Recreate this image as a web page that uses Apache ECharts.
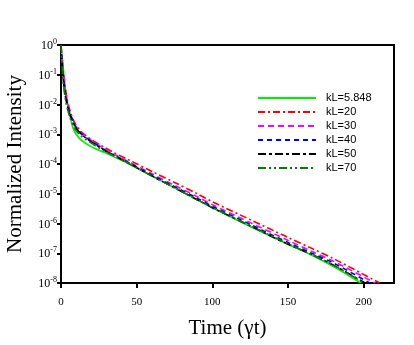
<!DOCTYPE html>
<html>
<head>
<meta charset="utf-8">
<script src="https://cdn.jsdelivr.net/npm/echarts@6/dist/echarts.min.js"></script>
<style>html,body{margin:0;padding:0;background:#fff}#c{width:414px;height:345px}</style>
</head>
<body>
<div id="c"></div>
<script>
// Time points (γt) shared by all curves; each curve then ends at its own time where it reaches 1e-8
const times = [0,1,2,3,4,6,8,10,13,17,22,28,35,45,60,75,90,100,125,150,165,180];
const endTimes = { kL5848: 198, kL20: 210.5, kL30: 207.5, kL40: 204, kL50: 201, kL70: 200 };
// log10(normalized intensity) at the shared time points, plus the end point
const kL5848 = [0,-0.55,-1.05,-1.5,-1.85,-2.4,-2.8,-3.0,-3.18,-3.33,-3.47,-3.6,-3.76,-4.0,-4.4,-4.8,-5.2,-5.47,-6.1,-6.7,-7.05,-7.45,-8];
const kL20   = [0,-0.6,-1.1,-1.5,-1.82,-2.22,-2.5,-2.7,-2.9,-3.07,-3.24,-3.42,-3.62,-3.87,-4.25,-4.62,-5.0,-5.27,-5.87,-6.47,-6.82,-7.18,-8];
const kL30   = [0,-0.7,-1.2,-1.6,-1.88,-2.27,-2.55,-2.75,-2.93,-3.1,-3.27,-3.47,-3.67,-3.93,-4.33,-4.72,-5.1,-5.37,-5.97,-6.57,-6.92,-7.27,-8];
const kL40   = [0,-0.8,-1.3,-1.65,-1.92,-2.3,-2.58,-2.78,-2.96,-3.13,-3.3,-3.5,-3.7,-3.96,-4.37,-4.76,-5.15,-5.42,-6.03,-6.64,-6.98,-7.33,-8];
const kL50   = [0,-0.9,-1.4,-1.75,-2.0,-2.35,-2.6,-2.8,-2.98,-3.15,-3.32,-3.52,-3.72,-3.98,-4.4,-4.8,-5.2,-5.47,-6.08,-6.7,-7.02,-7.4,-8];
const kL70   = [0,-1.0,-1.5,-1.85,-2.1,-2.45,-2.7,-2.88,-3.05,-3.2,-3.36,-3.55,-3.73,-3.99,-4.4,-4.8,-5.2,-5.46,-6.07,-6.68,-7.03,-7.4,-8];
const seriesNames = ['kL=5.848','kL=20','kL=30','kL=40','kL=50','kL=70'];
const xTicks = [0,50,100,150,200];

function pts(vals, endT){
  const ts = times.concat([endT]);
  return vals.map((v,i)=>[ts[i], Math.pow(10, v)]);
}
const defs = [
  {name: seriesNames[0], d: pts(kL5848, endTimes.kL5848), color:'#00ee00', type:'solid'},
  {name: seriesNames[1], d: pts(kL20, endTimes.kL20), color:'#ff0000', type:[7,3,2,3]},
  {name: seriesNames[2], d: pts(kL30, endTimes.kL30), color:'#ff00ff', type:[6,4]},
  {name: seriesNames[3], d: pts(kL40, endTimes.kL40), color:'#0000ff', type:[5,4]},
  {name: seriesNames[4], d: pts(kL50, endTimes.kL50), color:'#000000', type:[8,3,3,3]},
  {name: seriesNames[5], d: pts(kL70, endTimes.kL70), color:'#008000', type:[8,3,2,3,2,3]}
];
const chart = echarts.init(document.getElementById('c'), null, {renderer:'canvas'});
chart.setOption({
  animation:false,
  grid:{left:61,right:20,top:45,bottom:62,show:true,borderColor:'#000',borderWidth:2,backgroundColor:'transparent',containLabel:false,outerBoundsMode:'none'},
  legend:{
    orient:'vertical', left:252, top:87,
    itemWidth:58, itemHeight:10, itemGap:2,
    itemStyle:{opacity:0},
    textStyle:{fontFamily:'Liberation Sans, Arial', fontSize:11, color:'#000', lineHeight:12, padding:[0,0,0,5]},
    data: seriesNames
  },
  xAxis:{
    type:'value', min:0, max:220, interval:50,
    axisLine:{show:true,lineStyle:{color:'#000',width:2}},
    axisTick:{show:true,length:5,lineStyle:{color:'#000',width:2},customValues:xTicks},
    axisLabel:{fontFamily:'Liberation Serif', fontSize:11, color:'#000', margin:14, customValues:xTicks},
    splitLine:{show:false},
    name:'Time (γt)', nameLocation:'middle', nameGap:35,
    nameTextStyle:{fontFamily:'Liberation Serif', fontSize:21, color:'#000'}
  },
  yAxis:{
    type:'log', logBase:10, min:1e-8, max:1, interval:1,
    axisLine:{show:true,lineStyle:{color:'#000',width:2}},
    axisTick:{show:true,length:4,lineStyle:{color:'#000',width:2}},
    minorTick:{show:false},
    splitLine:{show:false},
    axisLabel:{
      margin:4,
      formatter:function(v){ const e=Math.round(Math.log10(v)); return '{b|10}{s|'+e+'}'; },
      rich:{
        b:{fontFamily:'Liberation Serif', fontSize:12, color:'#000', lineHeight:14, verticalAlign:'bottom'},
        s:{fontFamily:'Liberation Serif', fontSize:8, color:'#000', lineHeight:14, verticalAlign:'top', padding:[0,0,4,0]}
      }
    },
    name:'Normalized Intensity', nameLocation:'middle', nameGap:35,
    nameTextStyle:{fontFamily:'Liberation Serif', fontSize:21, color:'#000'}
  },
  series: defs.map(s=>({
    name:s.name, type:'line', data:s.d, showSymbol:false, symbol:'none', smooth:0.3,
    lineStyle:{color:s.color, width:1.6, type:s.type},
    itemStyle:{color:s.color}
  }))
});
</script>
</body>
</html>
